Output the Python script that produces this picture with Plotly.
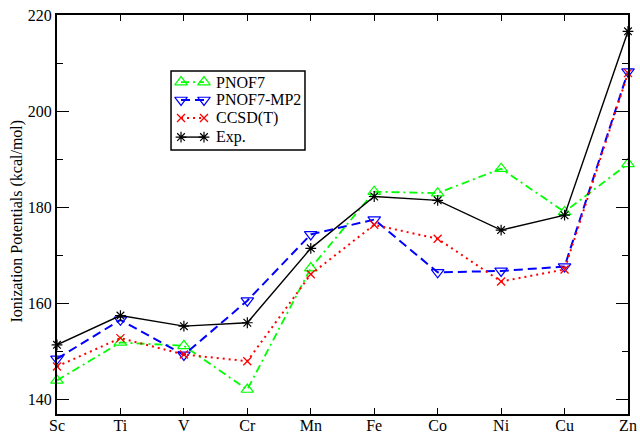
import plotly.graph_objects as go

elements = ["Sc", "Ti", "V", "Cr", "Mn", "Fe", "Co", "Ni", "Cu", "Zn"]
pnof7 = [143.9, 151.8, 151.1, 142.0, 167.3, 183.2, 182.9, 188.0, 179.0, 189.0]
pnof7_mp2 = [148.4, 156.5, 149.2, 160.5, 174.3, 177.4, 166.4, 166.7, 167.6, 208.2]
ccsdt = [146.8, 152.7, 149.3, 147.9, 166.0, 176.3, 173.4, 164.5, 167.0, 207.9]
exp = [151.3, 157.4, 155.2, 155.9, 171.4, 182.2, 181.4, 175.2, 178.3, 216.6]
y_ticks = [140, 160, 180, 200, 220]
series_names = ["PNOF7", "PNOF7-MP2", "CCSD(T)", "Exp."]
y_title = "Ionization Potentials (kcal/mol)"

FONT = "Liberation Serif"

styles = [
    dict(line=dict(color="#00ff00", width=1.8, dash="8px,4px,2px,4px"),
         marker=dict(symbol="triangle-up-open", size=11, color="#00ff00", line=dict(width=1.2))),
    dict(line=dict(color="#0000ff", width=2, dash="9px,5px"),
         marker=dict(symbol="triangle-down-open", size=11, color="#0000ff", line=dict(width=1.2))),
    dict(line=dict(color="#ff0000", width=2, dash="2px,4px"),
         marker=dict(symbol="x-thin-open", size=8, color="#ff0000", line=dict(width=1.3, color="#ff0000"))),
    dict(line=dict(color="#000000", width=1.4),
         marker=dict(symbol="asterisk-open", size=9, color="#000000", line=dict(width=1.2, color="#000000"))),
]
series = [pnof7, pnof7_mp2, ccsdt, exp]

fig = go.Figure()
for name, vals, st in zip(series_names, series, styles):
    fig.add_trace(go.Scatter(x=elements, y=vals, name=name, mode="lines+markers",
                             cliponaxis=False, showlegend=False, **st))

# legend (drawn on an overlay frame in plot-area fractions)
leg_rows = [0.832, 0.787, 0.742, 0.694]
leg_sample_x = [0.2172, 0.2574]
leg_text_x = 0.275
for name, yr, st in zip(series_names, leg_rows, styles):
    fig.add_trace(go.Scatter(x=leg_sample_x, y=[yr, yr], mode="lines+markers",
                             xaxis="x2", yaxis="y2", showlegend=False, hoverinfo="skip",
                             cliponaxis=False, **st))
    fig.add_annotation(x=leg_text_x, y=yr, xref="paper", yref="paper", text=name,
                       showarrow=False, xanchor="left", yanchor="middle",
                       font=dict(family=FONT, size=16, color="black"))
fig.add_shape(type="rect", xref="paper", yref="paper", x0=0.1997, x1=0.4343,
              y0=0.6617, y1=0.8596, line=dict(color="black", width=1.5),
              fillcolor="rgba(0,0,0,0)", layer="above")

fig.add_annotation(x=-0.0709, y=0.4837, xref="paper", yref="paper", text=y_title,
                   textangle=-90, showarrow=False, xanchor="center", yanchor="middle",
                   font=dict(family=FONT, size=16, color="black"))

fig.update_layout(
    width=640, height=433,
    margin=dict(l=57, r=12, t=15, b=19, autoexpand=False),
    paper_bgcolor="white", plot_bgcolor="white",
    font=dict(family=FONT, size=16, color="black"),
    showlegend=False,
    xaxis=dict(type="category", categoryorder="array", categoryarray=elements,
               range=[0, 9], showgrid=False, zeroline=False, automargin=False,
               showline=True, linecolor="black", linewidth=2, mirror="allticks",
               ticks="inside", ticklen=6, tickwidth=1, tickcolor="black",
               ticklabelstandoff=-4,
               tickfont=dict(family=FONT, size=16)),
    yaxis=dict(range=[136.9, 220], tickvals=y_ticks, showgrid=False, zeroline=False,
               automargin=False,
               showline=True, linecolor="black", linewidth=2, mirror="allticks",
               ticks="inside", ticklen=12, tickwidth=1, tickcolor="black",
               minor=dict(dtick=10, tick0=0, ticks="inside", ticklen=6, tickwidth=1,
                          tickcolor="black", showgrid=False),
               tickfont=dict(family=FONT, size=16)),
    xaxis2=dict(overlaying="x", range=[0, 1], visible=False, anchor="y2"),
    yaxis2=dict(overlaying="y", range=[0, 1], visible=False, anchor="x2"),
)

fig.write_html("out.html", config={"displayModeBar": False},
               post_script="document.body.style.margin='0';")
